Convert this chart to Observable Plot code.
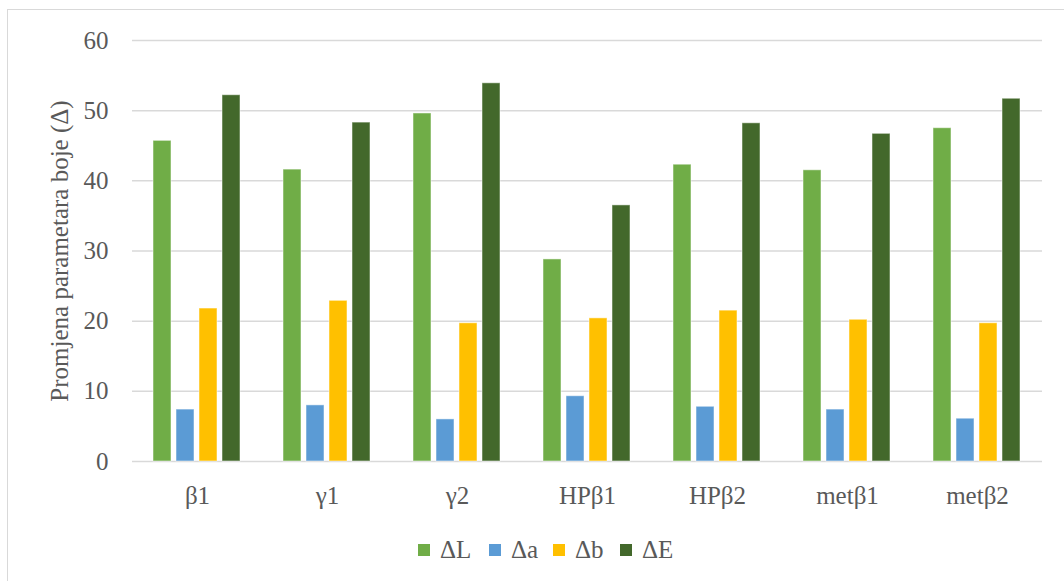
<!DOCTYPE html>
<html>
<head>
<meta charset="utf-8">
<script src="https://cdn.jsdelivr.net/npm/d3@7"></script>
<script src="https://cdn.jsdelivr.net/npm/@observablehq/plot@0.6"></script>
<style>
  html, body { margin: 0; padding: 0; background: #fff; }
  #wrap { position: relative; width: 1064px; height: 581px; overflow: hidden; font-family: "Liberation Serif", "DejaVu Serif", serif; color: #595959; }
  #frame { position: absolute; left: 7px; top: 9px; width: 1100px; height: 620px; border: 1.5px solid #d9d9d9; box-sizing: border-box; }
  #chart { position: absolute; left: 0; top: 0; }
  #chart svg, #chart svg text { font-family: "Liberation Serif", "DejaVu Serif", serif !important; }
  #legend { position: absolute; top: 538px; left: 0; width: 1064px; height: 24px; }
  .item { position: absolute; top: 0; display: flex; align-items: center; height: 24px; font-size: 25px; }
  .sw { width: 12px; height: 12px; margin-right: 10px; }
</style>
</head>
<body>
<div id="wrap">
  <div id="frame"></div>
  <div id="chart"></div>
  <div id="legend"></div>
</div>
<script>
const categories = ["β1", "γ1", "γ2", "HPβ1", "HPβ2", "metβ1", "metβ2"];
const series = ["ΔL", "Δa", "Δb", "ΔE"];
const colors = ["#70AD47", "#5B9BD5", "#FFC000", "#43682B"];
const dL = [45.7, 41.6, 49.6, 28.8, 42.3, 41.5, 47.5];
const da = [7.4, 8.0, 6.0, 9.3, 7.8, 7.4, 6.1];
const db = [21.8, 22.9, 19.7, 20.4, 21.5, 20.2, 19.7];
const dE = [52.2, 48.3, 53.9, 36.5, 48.2, 46.7, 51.7];
const yTicks = [0, 10, 20, 30, 40, 50, 60];
const legendX = [418, 489, 553, 620];

const values = [dL, da, db, dE];
const data = [];
categories.forEach((c, i) => {
  series.forEach((s, j) => data.push({cat: c, series: s, value: values[j][i]}));
});

const chart = Plot.plot({
  width: 1064,
  height: 520,
  marginTop: 40,
  marginBottom: 59,
  marginLeft: 129,
  marginRight: 19,
  style: {fontFamily: "Liberation Serif, DejaVu Serif, serif", fontSize: "25px", color: "#595959", background: "transparent", overflow: "visible"},
  fx: {domain: categories, padding: 0, label: null, tickSize: 0, tickPadding: 25, axis: "bottom"},
  x: {domain: series, paddingInner: 0.2, paddingOuter: 0.86, axis: null},
  y: {domain: [0, 60], ticks: yTicks, tickSize: 0, tickPadding: 24, label: "Promjena parametara boje (Δ)", labelAnchor: "center", labelArrow: "none", labelOffset: 82},
  color: {domain: series, range: colors},
  marks: [
    Plot.ruleY(yTicks, {stroke: "#d9d9d9", strokeWidth: 1.5}),
    Plot.barY(data, {fx: "cat", x: "series", y: "value", fill: "series", stroke: "#ffffff", strokeOpacity: 0.5, strokeWidth: 1})
  ]
});
document.getElementById("chart").appendChild(chart);

const legend = document.getElementById("legend");
series.forEach((s, j) => {
  const it = document.createElement("div");
  it.className = "item";
  it.style.left = legendX[j] + "px";
  const sw = document.createElement("div");
  sw.className = "sw";
  sw.style.background = colors[j];
  const t = document.createElement("span");
  t.textContent = s;
  it.appendChild(sw);
  it.appendChild(t);
  legend.appendChild(it);
});
</script>
</body>
</html>
